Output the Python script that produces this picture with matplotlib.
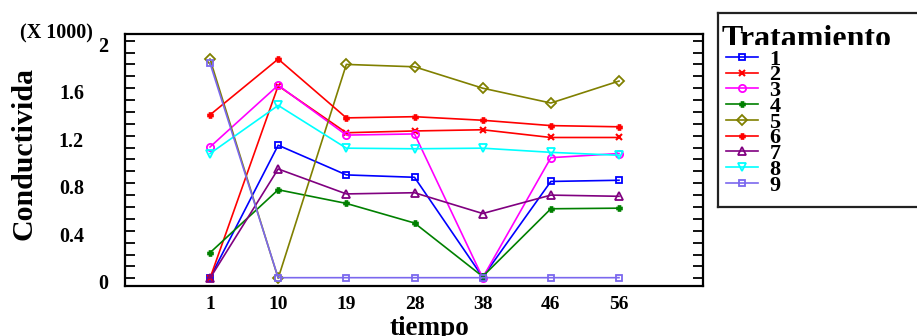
import matplotlib
matplotlib.use("Agg")
import matplotlib.pyplot as plt
import matplotlib.transforms as mtrans
from matplotlib.transforms import Bbox, TransformedBbox
import numpy as np

plt.rcParams['font.family'] = ['Liberation Serif', 'DejaVu Serif']
plt.rcParams['font.weight'] = 'bold'

tiempo = ["1", "10", "19", "28", "38", "46", "56"]
tratamientos = ["1", "2", "3", "4", "5", "6", "7", "8", "9"]

t1 = [5, 1120, 870, 850, 10, 815, 825]
t2 = [0, 1620, 1225, 1240, 1250, 1185, 1185]
t3 = [1105, 1625, 1205, 1215, 5, 1015, 1050]
t4 = [215, 745, 630, 465, 15, 585, 590]
t5 = [1845, 0, 1800, 1780, 1600, 1475, 1660]
t6 = [1375, 1845, 1350, 1360, 1330, 1285, 1275]
t7 = [0, 920, 710, 720, 545, 700, 690]
t8 = [1050, 1455, 1095, 1090, 1095, 1060, 1035]
t9 = [1810, 5, 5, 5, 5, 5, 5]
series = [t1, t2, t3, t4, t5, t6, t7, t8, t9]

colors = ['#0000ff', '#ff0000', '#ff00ff', '#008000', '#808000',
          '#ff0000', '#800080', '#00ffff', '#7b68ee']
markers = ['s', 'x', 'o', 'P', 'D', 'P', '^', 'v', 's']
msizes = [4.8, 4.5, 5.2, 3.3, 4.8, 3.3, 5.2, 5.2, 4.8]
open_m = [True, False, True, False, True, False, True, True, True]

W, H = 917, 336
fig = plt.figure(figsize=(W / 100, H / 100), dpi=100)
ax = fig.add_axes([125 / W, 1 - 286 / H, 578 / W, 252 / H])

x = np.arange(len(tiempo))
lines = []
for s, c, m, ms, op, lab in zip(series, colors, markers, msizes, open_m, tratamientos):
    y = np.array(s) / 1000.0
    ln, = ax.plot(x, y, color=c, lw=1.2, marker=m, ms=ms,
                  mfc='none' if op else c, mec=c, mew=1.3 if op else 1.5, label=lab)
    lines.append(ln)

ax.set_xlim(-1.247, 7.232)
ax.set_ylim(-0.065, 2.056)

ax.set_xticks(x)
ax.set_xticklabels(tiempo, fontsize=14, fontweight='bold')
ax.tick_params(axis='x', length=0, pad=7)

yt = np.round(np.arange(0, 2.01, 0.1), 2)
ax.set_yticks(yt)
ax.set_yticklabels([])
ax.tick_params(axis='y', which='both', direction='in', length=7, width=1.3,
               left=True, right=True)
for sp in ax.spines.values():
    sp.set_linewidth(1.6)

ylab_vals = [0, 0.4, 0.8, 1.2, 1.6, 2]
ylab_txt = ["0", "0.4", "0.8", "1.2", "1.6", "2"]
trans = ax.get_yaxis_transform()
off = mtrans.ScaledTranslation(0, -6 / 100, fig.dpi_scale_trans)
for v, tx in zip(ylab_vals, ylab_txt):
    xa = (108 - 125) / 578 if tx in ("0", "2") else (84 - 125) / 578
    ax.text(xa, v, tx, transform=trans + off, ha='right', va='center',
            fontsize=14.5, fontweight='bold')

fig.text(20 / W, 1 - 33 / H, "(X 1000)", ha='left', va='center',
         fontsize=14.5, fontweight='bold')

fig.text(24 / W, 1 - 154 / H, "Conductivida", rotation=90, ha='center',
         va='center', fontsize=21.5, fontweight='bold')
fig.text(429 / W, 1 - 335 / H, "tiempo", ha='center', va='baseline',
         fontsize=19.5, fontweight='bold')

# legend box
lax = fig.add_axes([718 / W, 1 - 207 / H, 230 / W, 194 / H])
lax.set_xticks([])
lax.set_yticks([])
for sp in lax.spines.values():
    sp.set_linewidth(1.6)
    sp.set_color('#222222')

tt = fig.text(722 / W, 1 - 47 / H, "Tratamiento", ha='left', va='baseline',
              fontsize=23, fontweight='bold')
tt.set_clip_box(TransformedBbox(Bbox([[0, 1 - 45 / H], [1, 1]]), fig.transFigure))
tt.set_clip_on(True)

leg = lax.legend(handles=lines, labels=tratamientos, loc='upper left',
                 bbox_to_anchor=(8 / 230, (207 - 49) / 194), frameon=False,
                 prop={'family': 'Liberation Serif', 'weight': 'bold', 'size': 16},
                 labelspacing=-0.215, handlelength=1.45, handletextpad=0.5,
                 borderpad=0, borderaxespad=0, numpoints=1)

fig.savefig("out.png", dpi=100)
